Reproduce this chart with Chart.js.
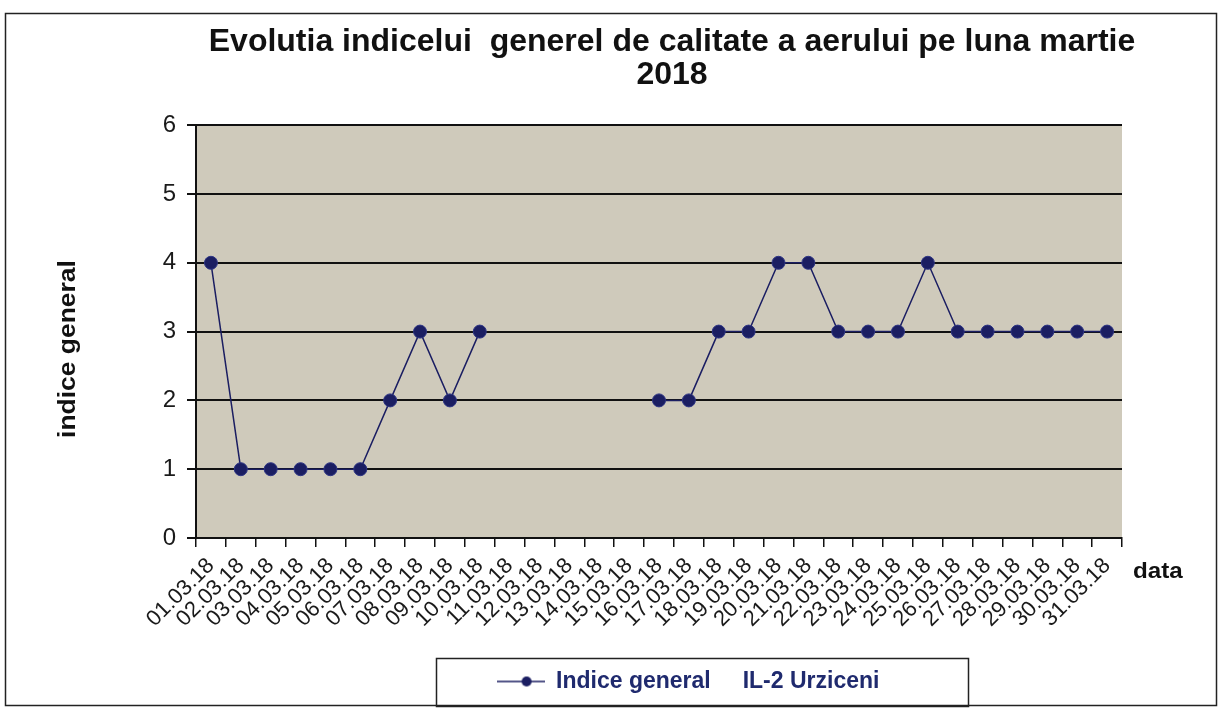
<!DOCTYPE html>
<html>
<head>
<meta charset="utf-8">
<script src="https://cdn.jsdelivr.net/npm/chart.js@4"></script>
<style>
  html, body { margin: 0; padding: 0; background: #fff; }
  canvas { display: block; }
</style>
</head>
<body>
<canvas id="aqi" width="1223" height="708"></canvas>
<script>
const days = [
  '01.03.18', '02.03.18', '03.03.18', '04.03.18', '05.03.18', '06.03.18', '07.03.18', '08.03.18',
  '09.03.18', '10.03.18', '11.03.18', '12.03.18', '13.03.18', '14.03.18', '15.03.18', '16.03.18',
  '17.03.18', '18.03.18', '19.03.18', '20.03.18', '21.03.18', '22.03.18', '23.03.18', '24.03.18',
  '25.03.18', '26.03.18', '27.03.18', '28.03.18', '29.03.18', '30.03.18', '31.03.18'
];
// no measurements 11-15 March
const indiceGeneral = [
  4, 1, 1, 1, 1, 1, 2, 3, 2, 3,
  null, null, null, null, null,
  2, 2, 3, 3, 4, 4, 3, 3, 3, 4, 3, 3, 3, 3, 3, 3
];
const seriesName = 'Indice general     IL-2 Urziceni';
const titleLines = ['Evolutia indicelui  generel de calitate a aerului pe luna martie', '2018'];
const yAxisTitle = 'indice general';
const xAxisTitle = 'data';

const FONT = '"Liberation Sans", Arial, sans-serif';
const navy = '#1b1e62';

// line-with-dot marker for the legend
const marker = document.createElement('canvas');
marker.width = 48;
marker.height = 14;
const m = marker.getContext('2d');
m.strokeStyle = navy;
m.lineWidth = 1.5;
m.beginPath();
m.moveTo(0, 7);
m.lineTo(48, 7);
m.stroke();
m.fillStyle = navy;
m.beginPath();
m.arc(30, 7, 5, 0, Math.PI * 2);
m.fill();

const decorations = {
  id: 'decorations',
  afterLayout(chart) {
    // title and legend sit right of the page centre in the original
    chart.titleBlock.left += 106;
    chart.titleBlock.right += 106;
    chart.legend.left += 122;
    chart.legend.right += 122;
  },
  beforeDraw(chart) {
    const {ctx, chartArea: a} = chart;
    ctx.save();
    ctx.fillStyle = '#cfcabb';
    ctx.fillRect(a.left, a.top, a.right - a.left, a.bottom - a.top);
    ctx.restore();
  },
  afterDraw(chart) {
    const {ctx, chartArea: a} = chart;
    ctx.save();
    // outer frame
    ctx.strokeStyle = '#222';
    ctx.lineWidth = 1.5;
    ctx.strokeRect(5.5, 13.5, 1211, 692);

    // axis titles
    ctx.fillStyle = '#111';
    ctx.font = 'bold 23px ' + FONT;
    ctx.textAlign = 'center';
    ctx.textBaseline = 'middle';
    ctx.translate(69, 349);
    ctx.rotate(-Math.PI / 2);
    ctx.scale(1.15, 1);
    ctx.fillText(yAxisTitle, 0, 0);
    ctx.setTransform(1, 0, 0, 1, 0, 0);

    ctx.font = 'bold 22px ' + FONT;
    ctx.textAlign = 'left';
    ctx.translate(a.right + 11, 572);
    ctx.scale(1.1, 1);
    ctx.fillText(xAxisTitle, 0, 0);
    ctx.setTransform(1, 0, 0, 1, 0, 0);

    // legend frame
    const lg = chart.legend;
    const cx = (lg.left + lg.right) / 2;
    const cy = (lg.top + lg.bottom) / 2;
    ctx.strokeStyle = '#222';
    ctx.lineWidth = 1.5;
    ctx.strokeRect(Math.round(cx - 252) + 0.5, Math.round(cy - 24) + 0.5, 532, 48);
    ctx.restore();
  }
};

new Chart(document.getElementById('aqi').getContext('2d'), {
  type: 'line',
  data: {
    labels: days,
    datasets: [{
      label: seriesName,
      data: indiceGeneral,
      borderColor: navy,
      backgroundColor: navy,
      borderWidth: 1.5,
      pointRadius: 6.5,
      pointBackgroundColor: navy,
      pointBorderColor: '#2e3585',
      pointBorderWidth: 1,
      spanGaps: false,
      tension: 0
    }]
  },
  options: {
    responsive: false,
    animation: false,
    layout: { padding: { left: 10, right: 101, top: 0, bottom: 5 } },
    plugins: {
      title: {
        display: true,
        text: titleLines,
        color: '#111',
        font: { family: FONT, size: 32, weight: 'bold', lineHeight: 1.05 },
        padding: { top: 25, bottom: 33 }
      },
      legend: {
        position: 'bottom',
        labels: {
          usePointStyle: true,
          pointStyle: marker,
          pointStyleWidth: 48,
          color: '#1f2a6e',
          font: { family: FONT, size: 23, weight: 'bold' },
          padding: 10
        }
      },
      tooltip: { enabled: false }
    },
    scales: {
      x: {
        offset: true,
        grid: {
          display: true,
          offset: true,
          drawOnChartArea: false,
          drawTicks: true,
          tickLength: 9,
          color: '#111',
          lineWidth: 1.5
        },
        border: { display: true, color: '#111', width: 2 },
        ticks: {
          autoSkip: false,
          minRotation: 45,
          maxRotation: 45,
          color: '#1a1a1a',
          font: { family: FONT, size: 22 },
          padding: 6
        },
        afterFit(scale) { scale.height = 122; }
      },
      y: {
        min: 0,
        max: 6,
        ticks: {
          stepSize: 1,
          color: '#1a1a1a',
          font: { family: FONT, size: 24 },
          padding: 11
        },
        grid: {
          color: '#111',
          lineWidth: 2,
          tickLength: 9,
          drawTicks: true
        },
        border: { display: true, color: '#111', width: 2 },
        afterFit(scale) { scale.width = 186; }
      }
    }
  },
  plugins: [decorations]
});
</script>
</body>
</html>
